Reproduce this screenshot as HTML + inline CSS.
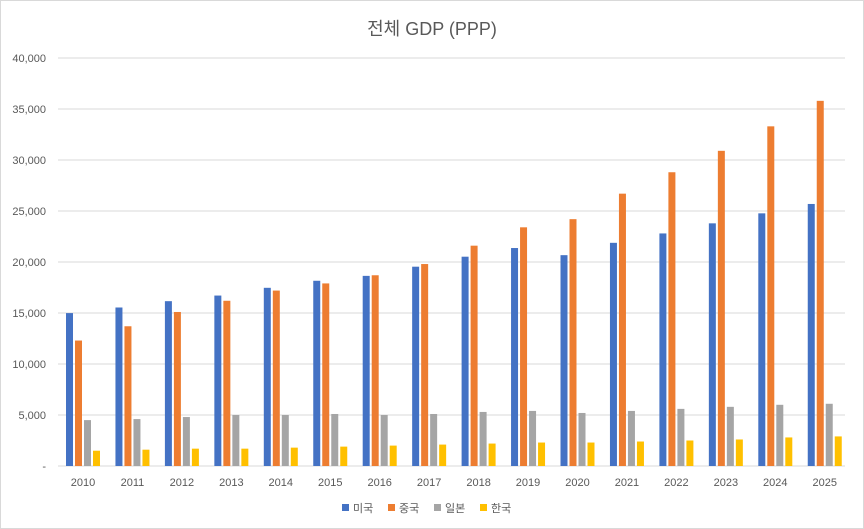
<!DOCTYPE html>
<html><head><meta charset="utf-8"><style>
body{margin:0;background:#fff;font-family:"Liberation Sans","Noto Sans CJK KR",sans-serif;}
#c{position:absolute;left:0;top:0;width:862px;height:527px;border:1px solid #d9d9d9;}
</style></head><body>
<div id="c">
<svg id="s" width="864" height="529" style="position:absolute;left:-1px;top:-1px">
<text x="432" y="35" text-anchor="middle" font-size="18" fill="#595959">전체 GDP (PPP)</text>
</svg></div>
<script>
const years=["2010","2011","2012","2013","2014","2015","2016","2017","2018","2019","2020","2021","2022","2023","2024","2025"];
const usa=[14990,15540,16160,16710,17470,18160,18640,19540,20520,21370,20670,21880,22800,23790,24770,25690];
const china=[12300,13700,15100,16200,17200,17900,18700,19800,21600,23400,24200,26700,28800,30900,33300,35800];
const japan=[4500,4600,4800,5000,5000,5100,5000,5100,5300,5400,5200,5400,5600,5800,6000,6100];
const korea=[1500,1600,1700,1700,1800,1900,2000,2100,2200,2300,2300,2400,2500,2600,2800,2900];
const yTicks=[0,5000,10000,15000,20000,25000,30000,35000,40000];
const seriesNames=["미국","중국","일본","한국"];
const colors=["#4472C4","#ED7D31","#A5A5A5","#FFC000"];
const s=document.getElementById('s');const NS="http://www.w3.org/2000/svg";
const x0=58,x1=845,y0=466,y1=58,ymax=40000;
const y=v=>y0-(v/ymax)*(y0-y1);
const gw=49.45;
function el(t,a,txt){const e=document.createElementNS(NS,t);for(const k in a)e.setAttribute(k,a[k]);if(txt!=null)e.textContent=txt;s.appendChild(e);return e;}
yTicks.forEach(v=>{
 const g=el('line',{x1:x0,x2:x1,y1:y(v),y2:y(v),stroke:'#d9d9d9','stroke-width':1});
 
 
 const t=el('text',{x:46,y:y(v)+4,'text-anchor':'end','font-size':11,fill:'#595959'},v===0?'-':v.toLocaleString('en-US'));
 
 
});
const data=[usa,china,japan,korea];
years.forEach((yr,i)=>{
 const gx=x0+i*gw;
 data.forEach((arr,j)=>{
  const r=el('rect',{x:gx+8+j*9,y:y(arr[i]),width:7,height:y0-y(arr[i]),fill:colors[j]});
  
  
 });
 const t=el('text',{x:gx+25,y:486,'text-anchor':'middle','font-size':11,fill:'#595959'},yr);
 
 
});
let lx=342;
seriesNames.forEach((n,j)=>{
 const r=el('rect',{x:lx,y:504,width:7,height:7,fill:colors[j]});
 
 
 const t=el('text',{x:lx+11,y:512,'font-size':11,fill:'#595959'},n);
 
 
 lx+=46;
});
</script></body></html>
